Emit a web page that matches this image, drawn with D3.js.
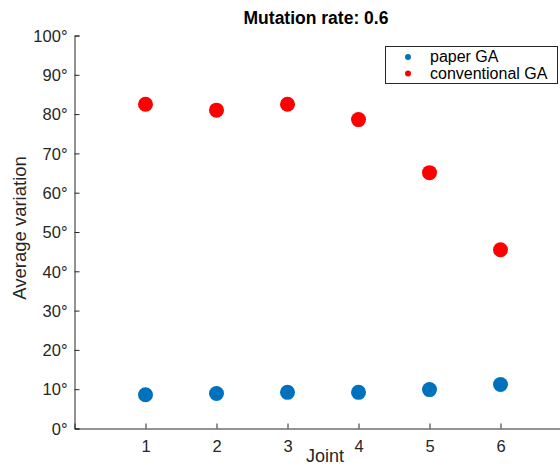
<!DOCTYPE html>
<html><head><meta charset="utf-8">
<script src="https://cdn.jsdelivr.net/npm/d3@7"></script>
<style>body{margin:0;background:#fff}svg{display:block;font-family:"Liberation Sans",Arial,sans-serif}</style>
</head><body>
<svg id="c" width="560" height="466"></svg>
<script>
const joints = [1,2,3,4,5,6];
const paperGA = [8.6, 8.9, 9.2, 9.2, 9.9, 11.2];
const conventionalGA = [82.5, 81.0, 82.5, 78.6, 65.1, 45.5];
const yTicks = [0,10,20,30,40,50,60,70,80,90,100];
const seriesNames = ["paper GA","conventional GA"];
const colors = ["#0072BD","#FF0000"];

const svg = d3.select("#c");
const x = d3.scaleLinear().domain([0,7]).range([74.5,571.5]);
const y = d3.scaleLinear().domain([0,100]).range([428.5,35.5]);
const axisColor = "#262626";

const gx = svg.append("g").attr("transform","translate(0,428.5)")
  .call(d3.axisBottom(x).tickValues(joints).tickSize(-5).tickPadding(12).tickFormat(d3.format("d")));
const gy = svg.append("g").attr("transform","translate(74.5,0)")
  .call(d3.axisLeft(y).tickValues(yTicks).tickSize(-5).tickPadding(7).tickFormat(d=>d+"°"));
[gx,gy].forEach(g=>{
  g.select(".domain").attr("stroke",axisColor).attr("stroke-width",1);
  g.selectAll(".tick line").attr("stroke",axisColor);
  g.selectAll("text").attr("fill",axisColor).style("font-size","16.5px").style("font-family","Liberation Sans, Arial, sans-serif");
});
gy.selectAll(".tick text").attr("dy","0.35em");

svg.append("g").selectAll("circle").data(joints).join("circle")
  .attr("cx",d=>x(d)).attr("cy",(d,i)=>y(paperGA[i])).attr("r",7.5).attr("fill",colors[0]);
svg.append("g").selectAll("circle").data(joints).join("circle")
  .attr("cx",d=>x(d)).attr("cy",(d,i)=>y(conventionalGA[i])).attr("r",7.5).attr("fill",colors[1]);

svg.append("text").attr("x",316).attr("y",24).attr("text-anchor","middle")
  .attr("font-weight","bold").attr("font-size","17.5px").attr("fill","#000").text("Mutation rate: 0.6");
svg.append("text").attr("x",325).attr("y",462).attr("text-anchor","middle")
  .attr("font-size","18px").attr("fill",axisColor).text("Joint");
svg.append("text").attr("transform","translate(26,228) rotate(-90)").attr("text-anchor","middle")
  .attr("font-size","18.5px").attr("fill",axisColor).text("Average variation");

const lg = svg.append("g");
lg.append("rect").attr("x",385.5).attr("y",46.5).attr("width",172).attr("height",37)
  .attr("fill","#fff").attr("stroke","#262626").attr("stroke-width",1);
seriesNames.forEach((n,i)=>{
  lg.append("circle").attr("cx",408).attr("cy",57+i*16.5).attr("r",3).attr("fill",colors[i]);
  lg.append("text").attr("x",430).attr("y",62+i*16.5).attr("font-size","16px").attr("fill","#000").text(n);
});
</script>
</body></html>
